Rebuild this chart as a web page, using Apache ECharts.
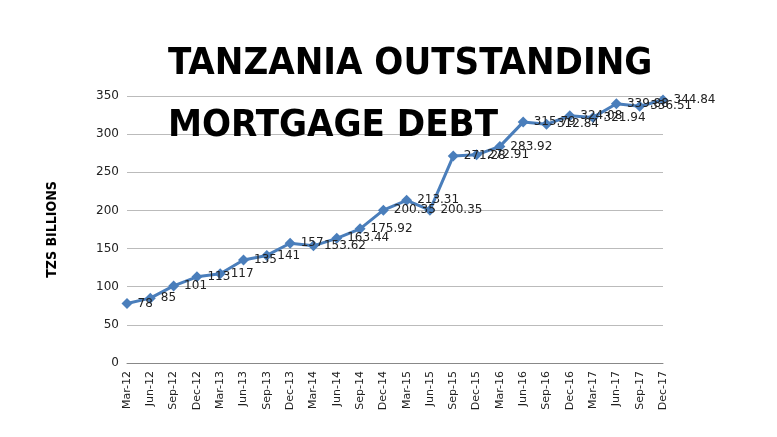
<!DOCTYPE html>
<html>
<head>
<meta charset="UTF-8">
<script src="https://cdn.jsdelivr.net/npm/echarts@6/dist/echarts.min.js"></script>
</head>
<body style="margin:0;background:#fff">
<div id="main" style="width:777px;height:437px"></div>
<script>
var quarters = ['Mar-12','Jun-12','Sep-12','Dec-12','Mar-13','Jun-13','Sep-13','Dec-13','Mar-14','Jun-14','Sep-14','Dec-14',
  'Mar-15','Jun-15','Sep-15','Dec-15','Mar-16','Jun-16','Sep-16','Dec-16','Mar-17','Jun-17','Sep-17','Dec-17'];
var debt = [78, 85, 101, 113, 117, 135, 141, 157, 153.62, 163.44, 175.92, 200.35,
  213.31, 200.35, 271.28, 272.91, 283.92, 315.79, 312.84, 324.08, 321.94, 339.88, 336.51, 344.84];

var chart = echarts.init(document.getElementById('main'));
chart.setOption({
  animation: false,
  title: {
    text: 'TANZANIA OUTSTANDING\nMORTGAGE DEBT',
    left: 163, top: 28,
    textStyle: { fontFamily: 'DejaVu Sans Condensed', fontWeight: 'bold', fontSize: 38, lineHeight: 62, color: '#000' }
  },
  grid: { left: 127, right: 114, top: 96, bottom: 74 },
  xAxis: {
    type: 'category', data: quarters, boundaryGap: false,
    axisLine: { lineStyle: { color: '#888' } },
    axisTick: { show: false },
    axisLabel: { rotate: 90, color: '#222', fontSize: 11, fontFamily: 'DejaVu Sans', interval: 0 }
  },
  yAxis: {
    type: 'value', min: 0, max: 350, interval: 50,
    name: 'TZS BILLIONS', nameLocation: 'middle', nameGap: 68,
    nameTextStyle: { fontFamily: 'DejaVu Sans Condensed', fontWeight: 'bold', fontSize: 14, color: '#000' },
    axisLine: { show: false }, axisTick: { show: false },
    axisLabel: { color: '#222', fontSize: 12, fontFamily: 'DejaVu Sans' },
    splitLine: { lineStyle: { color: '#bbb' } }
  },
  series: [{
    type: 'line', data: debt,
    symbol: 'diamond', symbolSize: 11,
    lineStyle: { color: '#4a7ebb', width: 3 },
    itemStyle: { color: '#4a7ebb' },
    label: { show: true, position: 'right', offset: [2, 8], color: '#222', fontSize: 12, fontFamily: 'DejaVu Sans' },
    labelLayout: { hideOverlap: false }
  }]
});
</script>
</body>
</html>
